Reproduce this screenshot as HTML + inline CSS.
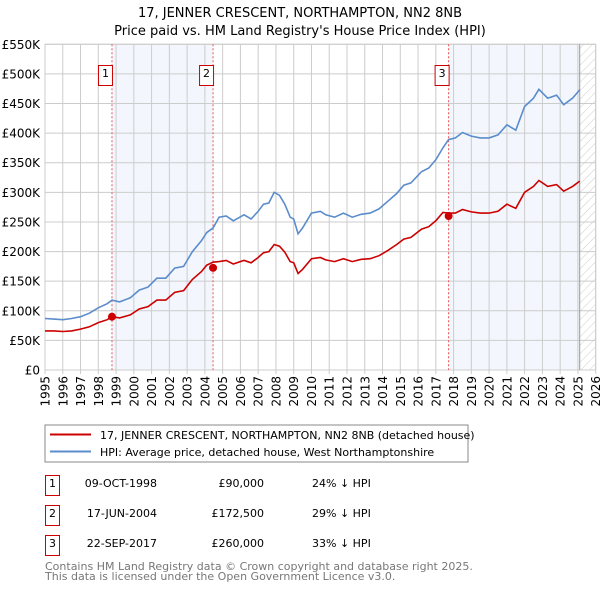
<!DOCTYPE html>
<html><head><meta charset="utf-8"><style>
body{margin:0;background:#fff;font-family:"DejaVu Sans","Liberation Sans",sans-serif}
svg text{font-family:"DejaVu Sans","Liberation Sans",sans-serif}
</style></head><body>
<svg id="c" width="600" height="590" xmlns="http://www.w3.org/2000/svg">
<defs><pattern id="hatch" width="6" height="6" patternUnits="userSpaceOnUse" patternTransform="rotate(45)"><line x1="0" y1="0" x2="0" y2="6" stroke="#ccc" stroke-width="1"/></pattern></defs>
<text x="300" y="17" text-anchor="middle" font-size="13" fill="#000">17, JENNER CRESCENT, NORTHAMPTON, NN2 8NB</text>
<text x="300" y="35" text-anchor="middle" font-size="13" fill="#000">Price paid vs. HM Land Registry's House Price Index (HPI)</text>
<g id="plot"></g>
<rect x="45" y="425" width="423" height="37" fill="#fff" stroke="#888"/>
<line x1="50" y1="434.5" x2="91" y2="434.5" stroke="#cc0000" stroke-width="2"/>
<text x="100" y="439" font-size="11">17, JENNER CRESCENT, NORTHAMPTON, NN2 8NB (detached house)</text>
<line x1="50" y1="451.5" x2="91" y2="451.5" stroke="#5b8ccc" stroke-width="2"/>
<text x="100" y="456" font-size="11">HPI: Average price, detached house, West Northamptonshire</text>
<g font-size="11">
<rect x="45.5" y="475.5" width="14" height="20" fill="#fff" stroke="#cc0000"/><text x="52.5" y="487" text-anchor="middle">1</text>
<text x="157" y="487" text-anchor="end">09-OCT-1998</text><text x="264" y="487" text-anchor="end">£90,000</text><text x="312" y="487">24% ↓ HPI</text>
<rect x="45.5" y="505.5" width="14" height="20" fill="#fff" stroke="#cc0000"/><text x="52.5" y="517" text-anchor="middle">2</text>
<text x="157" y="517" text-anchor="end">17-JUN-2004</text><text x="264" y="517" text-anchor="end">£172,500</text><text x="312" y="517">29% ↓ HPI</text>
<rect x="45.5" y="535.5" width="14" height="20" fill="#fff" stroke="#cc0000"/><text x="52.5" y="547" text-anchor="middle">3</text>
<text x="157" y="547" text-anchor="end">22-SEP-2017</text><text x="264" y="547" text-anchor="end">£260,000</text><text x="312" y="547">33% ↓ HPI</text>
</g>
<text x="45" y="570" font-size="11" fill="#777">Contains HM Land Registry data © Crown copyright and database right 2025.</text>
<text x="45" y="580" font-size="11" fill="#777">This data is licensed under the Open Government Licence v3.0.</text>
</svg>
<script>
const years=[1995,1995.5,1996,1996.5,1997,1997.5,1998,1998.5,1998.77,1999.2,1999.8,2000.3,2000.8,2001.3,2001.8,2002.3,2002.8,2003.3,2003.8,2004.1,2004.46,2004.8,2005.2,2005.6,2006.2,2006.6,2007,2007.3,2007.6,2007.9,2008.2,2008.5,2008.8,2009.0,2009.25,2009.5,2010,2010.5,2010.8,2011.3,2011.8,2012.3,2012.8,2013.3,2013.8,2014.3,2014.8,2015.2,2015.6,2016.2,2016.6,2017.0,2017.4,2017.72,2018.1,2018.5,2019,2019.5,2020,2020.5,2021,2021.5,2022,2022.5,2022.8,2023.3,2023.8,2024.2,2024.7,2025.1];
const hpi=[87,86,85,87,90,96,105,112,118,115,122,135,140,155,155,172,175,200,218,232,240,258,260,252,262,255,268,280,282,300,295,280,258,255,230,240,265,268,262,258,265,258,263,265,272,285,298,312,316,335,341,355,375,389,392,401,395,392,392,397,414,405,445,459,474,459,464,448,459,473];
const price=[66,66,65,66,69,73,80,85,90,88,93,103,107,118,118,131,134,153,166,177,182,183,185,179,185,181,190,198,200,212,209,199,183,181,163,170,188,190,186,183,188,183,187,188,193,202,212,221,224,238,242,252,266,265,265,271,267,265,265,268,280,273,300,310,320,310,313,302,310,319];
const saleYears=[1998.77,2004.46,2017.72];
const salePrices=[90,172.5,260];
const saleLabels=["1","2","3"];
const yTicks=[0,50,100,150,200,250,300,350,400,450,500,550];
const xTicks=[1995,1996,1997,1998,1999,2000,2001,2002,2003,2004,2005,2006,2007,2008,2009,2010,2011,2012,2013,2014,2015,2016,2017,2018,2019,2020,2021,2022,2023,2024,2025,2026];
const X0=45,X1=595.7,Y0=370,Y1=44.3;
const sx=y=>X0+(y-1995)/(2026-1995)*(X1-X0);
const sy=v=>Y0-v/550*(Y0-Y1);
const NS="http://www.w3.org/2000/svg";
const g=document.getElementById('plot');
function mk(t,a){const e=document.createElementNS(NS,t);for(const k in a)e.setAttribute(k,a[k]);g.appendChild(e);return e;}
// shaded bands
let b=mk('rect',{x:sx(saleYears[0]),y:Y1,width:sx(saleYears[1])-sx(saleYears[0]),height:Y0-Y1,fill:'#eef3fc',opacity:0.7});


b=mk('rect',{x:sx(saleYears[2]),y:Y1,width:sx(2025.1)-sx(saleYears[2]),height:Y0-Y1,fill:'#eef3fc',opacity:0.7});


b=mk('rect',{x:sx(2025.1),y:Y1,width:X1-sx(2025.1),height:Y0-Y1,fill:'url(#hatch)'});


yTicks.forEach(v=>{
 const l=mk('line',{x1:X0,x2:X1,y1:sy(v),y2:sy(v),stroke:'#ccc'});
 
 
 const t=mk('text',{x:40,y:sy(v)+4.5,'text-anchor':'end','font-size':12});
 t.textContent=v===0?'£0':'£'+v+'K';
 
 
});
xTicks.forEach(y=>{
 const l=mk('line',{x1:sx(y),x2:sx(y),y1:Y1,y2:Y0+4,stroke:'#ccc'});
 
 
 const t=mk('text',{x:0,y:0,'text-anchor':'end','font-size':12,transform:`translate(${sx(y)+4.5},${Y0+6}) rotate(-90)`});
 t.textContent=y;
 
 
});
let bx=mk('rect',{x:X0,y:Y1,width:X1-X0,height:Y0-Y1,fill:'none',stroke:'#ccc'});


let nl=mk('line',{x1:sx(2025.1),x2:sx(2025.1),y1:Y1,y2:Y0,stroke:'#999'});


saleYears.forEach((y,i)=>{
 const l=mk('line',{x1:sx(y),x2:sx(y),y1:Y1,y2:Y0,stroke:'#ee5555','stroke-dasharray':'2,2','stroke-width':1});
 
 
});
const pts=a=>a.map((v,i)=>sx(years[i]).toFixed(1)+','+sy(v).toFixed(1)).join(' ');
let hl=mk('polyline',{points:pts(hpi),fill:'none',stroke:'#5b8ccc','stroke-width':1.6});


let pl=mk('polyline',{points:pts(price),fill:'none',stroke:'#cc0000','stroke-width':1.6});


saleYears.forEach((y,i)=>{
 const c=mk('circle',{cx:sx(y),cy:sy(salePrices[i]),r:4,fill:'#cc0000'});
 
 
 const r=mk('rect',{x:sx(y)-13.5,y:65.5,width:14,height:20,fill:'#fff',stroke:'#cc0000'});
 
 
 const t=mk('text',{x:sx(y)-6.5,y:77,'text-anchor':'middle','font-size':11});
 t.textContent=saleLabels[i];
 
 
});
</script>
</body></html>
